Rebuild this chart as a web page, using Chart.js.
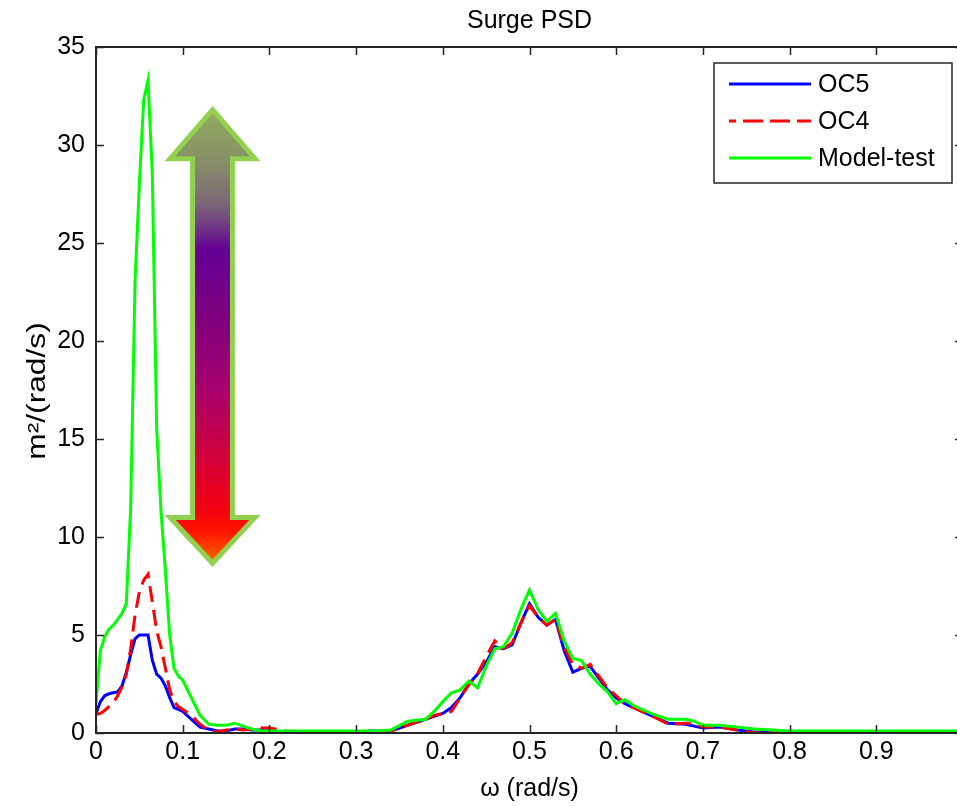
<!DOCTYPE html>
<html>
<head>
<meta charset="utf-8">
<title>Surge PSD</title>
<script src="https://cdn.jsdelivr.net/npm/chart.js@4.4.0/dist/chart.umd.min.js"></script>
<style>
html, body { margin: 0; padding: 0; overflow: hidden; background: #fff; }
#wrap { width: 990px; height: 806px; }
</style>
</head>
<body>
<div id="wrap"><canvas id="psd" width="990" height="806"></canvas></div>
<script>
// frecuencias (rad/s)
var omega = [0, 0.005, 0.01, 0.015, 0.02, 0.025, 0.03, 0.035, 0.04, 0.045, 0.05, 0.055, 0.06, 0.065, 0.07, 0.075, 0.08, 0.085, 0.09, 0.095, 0.1,
    0.11, 0.12, 0.13, 0.14, 0.15, 0.16, 0.17, 0.18, 0.19, 0.2,
    0.22, 0.25, 0.3, 0.32, 0.34, 0.36, 0.38,
    0.39, 0.4, 0.41, 0.42, 0.43, 0.44, 0.45, 0.46, 0.47, 0.48, 0.49, 0.5, 0.51, 0.52, 0.53, 0.54, 0.55, 0.56, 0.57, 0.58, 0.59, 0.6, 0.61, 0.62,
    0.64, 0.66, 0.68, 0.69, 0.7, 0.72, 0.74, 0.76, 0.78, 0.8, 0.9, 1.0];

var oc5 = [1.0, 1.6, 1.9, 2.0, 2.05, 2.1, 2.4, 3.1, 4.0, 4.8, 5.0, 5.0, 5.0, 3.7, 3.0, 2.8, 2.4, 1.8, 1.3, 1.2, 1.1,
    0.7, 0.3, 0.2, 0.1, 0.1, 0.2, 0.2, 0.15, 0.15, 0.1,
    0.05, 0.05, 0.05, 0.1, 0.1, 0.4, 0.7,
    0.85, 1.0, 1.3, 1.8, 2.5, 3.0, 3.6, 4.4, 4.3, 4.5, 5.6, 6.6, 5.9, 5.5, 5.8, 4.2, 3.1, 3.3, 3.4, 2.8, 2.2, 1.8, 1.5, 1.3,
    0.9, 0.5, 0.45, 0.35, 0.25, 0.3, 0.15, 0.05, 0.05, 0.05, 0.05, 0.05];

var oc4 = [0.95, 1.0, 1.15, 1.35, 1.55, 1.9, 2.35, 3.0, 4.3, 6.0, 7.2, 7.8, 8.1, 6.7, 5.2, 4.4, 3.3, 2.2, 1.6, 1.35, 1.2,
    0.9, 0.45, 0.15, 0.05, 0.15, 0.2, 0.15, 0.2, 0.25, 0.25,
    0.1, 0.05, 0.05, 0.1, 0.1, 0.4, 0.7,
    0.9, 1.0, 1.1, 1.8, 2.45, 3.0, 3.9, 4.7, 4.3, 4.6, 5.6, 6.5, 5.9, 5.5, 5.8, 4.4, 3.5, 3.3, 3.5, 2.9, 2.3, 1.9, 1.5, 1.3,
    0.9, 0.45, 0.5, 0.5, 0.3, 0.3, 0.15, 0.0, 0.05, 0.05, 0.05, 0.05];

var modelTest = [1.5, 4.2, 4.9, 5.3, 5.5, 5.8, 6.1, 6.6, 11.5, 23.0, 28.0, 32.3, 33.3, 28.5, 15.5, 11.3, 8.3, 5.0, 3.3, 2.9, 2.7,
    1.8, 0.9, 0.45, 0.4, 0.4, 0.5, 0.35, 0.2, 0.1, 0.1,
    0.1, 0.1, 0.1, 0.1, 0.15, 0.6, 0.7,
    1.1, 1.6, 2.05, 2.2, 2.65, 2.3, 3.4, 4.3, 4.4, 5.1, 6.3, 7.3, 6.3, 5.7, 6.1, 4.7, 3.8, 3.7, 3.0, 2.5, 2.1, 1.5, 1.7, 1.4,
    1.0, 0.7, 0.7, 0.6, 0.4, 0.4, 0.3, 0.2, 0.15, 0.1, 0.1, 0.1];

var seriesNames = ['OC5', 'OC4', 'Model-test'];
var seriesColors = ['#0000ff', '#ff0000', '#00ff00'];

// flecha decorativa, en coordenadas de datos
var arrow = { x: 0.1344, top: 31.8, topBase: 29.3, botBase: 11.0, bottom: 8.66, headHalf: 0.049, shaftHalf: 0.023 };

var FONT = "'Liberation Sans', Arial, sans-serif";
var INK = '#262626';

function toPoints(ys) {
    return omega.map(function (w, i) { return { x: w, y: ys[i] }; });
}

function drawArrow(ctx, xs, ys) {
    var cx = xs.getPixelForValue(arrow.x);
    var hh = xs.getPixelForValue(arrow.x + arrow.headHalf) - cx;
    var sh = xs.getPixelForValue(arrow.x + arrow.shaftHalf) - cx;
    var yT = ys.getPixelForValue(arrow.top);
    var yTB = ys.getPixelForValue(arrow.topBase);
    var yBB = ys.getPixelForValue(arrow.botBase);
    var yB = ys.getPixelForValue(arrow.bottom);

    var grad = ctx.createLinearGradient(0, yT, 0, yB);
    grad.addColorStop(0, '#93ad5c');
    grad.addColorStop(0.12, '#868c68');
    grad.addColorStop(0.21, '#7a6676');
    grad.addColorStop(0.31, '#640096');
    grad.addColorStop(0.45, '#7d007f');
    grad.addColorStop(0.62, '#a8006c');
    grad.addColorStop(0.78, '#d60036');
    grad.addColorStop(0.88, '#f50010');
    grad.addColorStop(0.93, '#ff1400');
    grad.addColorStop(1, '#ff6a00');

    ctx.save();
    ctx.beginPath();
    ctx.moveTo(cx, yT);
    ctx.lineTo(cx + hh, yTB);
    ctx.lineTo(cx + sh, yTB);
    ctx.lineTo(cx + sh, yBB);
    ctx.lineTo(cx + hh, yBB);
    ctx.lineTo(cx, yB);
    ctx.lineTo(cx - hh, yBB);
    ctx.lineTo(cx - sh, yBB);
    ctx.lineTo(cx - sh, yTB);
    ctx.lineTo(cx - hh, yTB);
    ctx.closePath();
    ctx.fillStyle = grad;
    ctx.fill();
    ctx.lineWidth = 5;
    ctx.lineJoin = 'miter';
    ctx.strokeStyle = '#92d050';
    ctx.stroke();
    ctx.restore();
}

var matlabFrame = {
    id: 'matlabFrame',
    afterDraw: function (chart) {
        var ctx = chart.ctx;
        var a = chart.chartArea;
        var xs = chart.scales.x;
        var ys = chart.scales.y;

        drawArrow(ctx, xs, ys);

        ctx.save();
        // caja de ejes
        ctx.strokeStyle = INK;
        ctx.lineWidth = 2;
        ctx.strokeRect(a.left, a.top, a.right - a.left, a.bottom - a.top);

        // marcas hacia dentro
        ctx.lineWidth = 1.5;
        ctx.beginPath();
        xs.ticks.forEach(function (t) {
            var px = Math.round(xs.getPixelForValue(t.value)) + 0.5;
            ctx.moveTo(px, a.bottom); ctx.lineTo(px, a.bottom - 8);
            ctx.moveTo(px, a.top); ctx.lineTo(px, a.top + 8);
        });
        ys.ticks.forEach(function (t) {
            var py = Math.round(ys.getPixelForValue(t.value)) + 0.5;
            ctx.moveTo(a.left, py); ctx.lineTo(a.left + 8, py);
            ctx.moveTo(a.right, py); ctx.lineTo(a.right - 8, py);
        });
        ctx.stroke();

        // titulo
        ctx.fillStyle = '#000';
        ctx.font = '25px ' + FONT;
        ctx.textAlign = 'center';
        ctx.textBaseline = 'middle';
        ctx.fillText('Surge PSD', (a.left + a.right) / 2, 21);

        // etiqueta del eje y (estirada como en la figura original)
        ctx.save();
        ctx.translate(38, (a.top + a.bottom) / 2 + 1);
        ctx.rotate(-Math.PI / 2);
        ctx.scale(1.27, 1);
        ctx.fillText('m²/(rad/s)', 0, 0);
        ctx.restore();

        // leyenda
        var bx = a.right - 249, by = a.top + 16, bw = 238, bh = 120;
        ctx.fillStyle = '#fff';
        ctx.fillRect(bx, by, bw, bh);
        ctx.strokeStyle = INK;
        ctx.lineWidth = 1.5;
        ctx.strokeRect(bx, by, bw, bh);
        seriesNames.forEach(function (name, i) {
            var ry = by + 21 + i * 37;
            ctx.beginPath();
            ctx.strokeStyle = seriesColors[i];
            ctx.lineWidth = 3;
            ctx.setLineDash(i === 1 ? [20, 7] : []);
            ctx.lineDashOffset = i === 1 ? -14 : 0;
            ctx.moveTo(bx + 15, ry);
            ctx.lineTo(bx + 97, ry);
            ctx.stroke();
            ctx.setLineDash([]);
            ctx.fillStyle = '#000';
            ctx.textAlign = 'left';
            ctx.fillText(name, bx + 104, ry + 1);
        });
        ctx.restore();
    }
};

var tickFont = { family: FONT, size: 25 };

var chart = new Chart(document.getElementById('psd'), {
    type: 'line',
    data: {
        datasets: [
            { label: seriesNames[0], data: toPoints(oc5), borderColor: seriesColors[0], order: 3 },
            { label: seriesNames[1], data: toPoints(oc4), borderColor: seriesColors[1], borderDash: [16, 8], order: 2 },
            { label: seriesNames[2], data: toPoints(modelTest), borderColor: seriesColors[2], order: 1 }
        ]
    },
    options: {
        responsive: false,
        animation: false,
        layout: { padding: { top: 47, right: 27, left: 0, bottom: 0 } },
        elements: {
            point: { radius: 0 },
            line: { tension: 0, borderWidth: 3, fill: false }
        },
        plugins: {
            legend: { display: false },
            tooltip: { enabled: false }
        },
        scales: {
            x: {
                type: 'linear',
                min: 0,
                max: 1,
                afterFit: function (s) { s.height = 73; },
                grid: { display: false, drawTicks: false },
                border: { display: false },
                ticks: {
                    stepSize: 0.1,
                    padding: 4,
                    color: '#000',
                    font: tickFont,
                    maxRotation: 0,
                    autoSkip: false,
                    callback: function (v) {
                        var r = Math.round(v * 10) / 10;
                        return r >= 1 ? '' : String(r);
                    }
                },
                title: { display: true, text: 'ω (rad/s)', color: '#000', font: tickFont, padding: { top: 0, bottom: 2 } }
            },
            y: {
                min: 0,
                max: 35,
                afterFit: function (s) { s.width = 96; },
                grid: { display: false, drawTicks: false },
                border: { display: false },
                ticks: { stepSize: 5, padding: 11, color: '#000', font: tickFont },
                title: { display: false }
            }
        }
    },
    plugins: [matlabFrame]
});
</script>
</body>
</html>
